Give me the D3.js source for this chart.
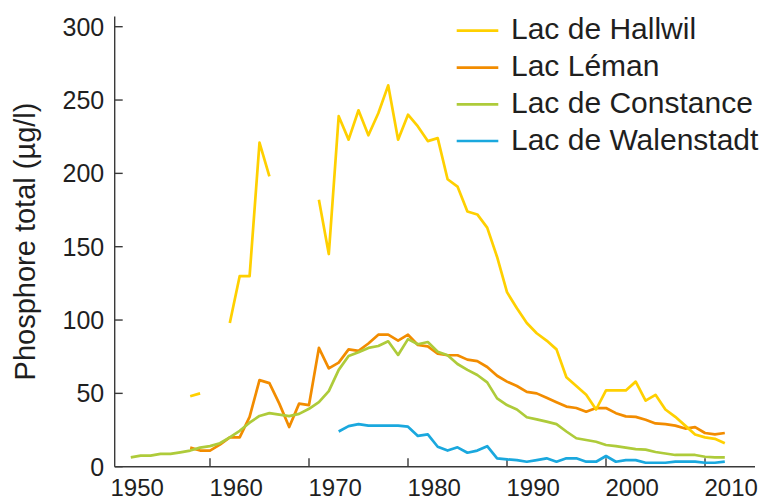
<!DOCTYPE html>
<html>
<head>
<meta charset="utf-8">
<script src="https://cdn.jsdelivr.net/npm/d3@7"></script>
<style>
  html, body { margin: 0; padding: 0; background: #fff; }
  svg { display: block; font-family: "Liberation Sans", Arial, Helvetica, sans-serif; }
</style>
</head>
<body>
<svg id="chart" width="764" height="501"></svg>
<script>
// ---- data ----
const years = d3.range(1952, 2013); // 1952 .. 2012

const hallwil = [
  null, null, null, null, null, null,          // 1952-1957
  48, 50, null, null,                          // 1958-1961
  98, 130, 130, 221, 198,                      // 1962-1966
  null, null, null, null,                      // 1967-1970
  182, 145, 239, 223, 243, 226, 241, 260, 223, // 1971-1979
  240, 232, 222, 224, 196, 191, 174, 172, 163, 143, // 1980-1989
  119, 108, 98, 91, 86, 80, 61, 55, 49, 39,    // 1990-1999
  52, 52, 52, 58, 45, 49, 39, 34, 28, 22,      // 2000-2009
  20, 19, 16                                   // 2010-2012
];

const leman = [
  null, null, null, null, null, null,          // 1952-1957
  13, 11,                                      // 1958-1959
  11, 15, 20, 20, 34, 59, 57, 43, 27, 43,      // 1960-1969
  42, 81, 67, 71, 80, 79, 84, 90, 90, 86,      // 1970-1979
  90, 83, 82, 77, 76, 76, 73, 72, 68, 62,      // 1980-1989
  58, 55, 51, 50, 47, 44, 41, 40, 37.5, 40,    // 1990-1999
  40, 36.5, 34.3, 34, 32, 29.5, 29, 28, 26, 27,// 2000-2009
  23, 22, 23                                   // 2010-2012
];

const constance = [
  6.4, 7.5, 7.5, 8.7, 8.7, 9.8, 11, 13,        // 1952-1959
  14, 16, 20, 24.5, 30, 34.6, 36.5, 35.5, 34.5, 36, // 1960-1969
  39.5, 44, 51.5, 66, 75.5, 78, 81, 82.3, 85.5, 76.2, // 1970-1979
  87, 83.5, 85, 78.4, 76, 70, 66, 62.5, 57.5, 46.6,   // 1980-1989
  42, 39, 33.7, 32.3, 30.7, 29, 24, 19.4, 18.2, 17,   // 1990-1999
  14.8, 14, 13, 12, 11.6, 10, 9, 8, 8, 8,             // 2000-2009
  6.8, 6.3, 6.3                                       // 2010-2012
];

const walenstadt = [
  null, null, null, null, null, null, null, null,     // 1952-1959
  null, null, null, null, null, null, null, null, null, null, // 1960-1969
  null, null, null, 24, 27.7, 29, 28, 28, 28, 28,     // 1970-1979
  27.3, 21, 22, 13.6, 11, 13.2, 9.5, 11, 14, 5.7,     // 1980-1989
  5, 4.5, 3.4, 4.5, 5.7, 3.4, 5.7, 5.7, 3.4, 3.4,     // 1990-1999
  7.3, 3.4, 4.5, 4.5, 2.7, 2.7, 2.7, 3.4, 3.4, 3.4,   // 2000-2009
  2.7, 2.7, 3.4                                       // 2010-2012
];

const seriesNames = ["Lac de Hallwil", "Lac Léman", "Lac de Constance", "Lac de Walenstadt"];
const seriesColors = ["#FFD000", "#F28C00", "#AECB3A", "#1AA8DE"];
const seriesValues = [hallwil, leman, constance, walenstadt];

const xTicks = [1950, 1960, 1970, 1980, 1990, 2000, 2010];
const yTicks = [0, 50, 100, 150, 200, 250, 300];
const yTitle = "Phosphore total (µg/l)";

// ---- layout ----
const svg = d3.select("#chart");
const x = d3.scaleLinear().domain([1950, 2010]).range([111, 705]);
const y = d3.scaleLinear().domain([0, 300]).range([466.7, 26.7]);
const axisX0 = 114.7, axisX1 = 755, axisYtop = 16.5;
const axisColor = "#3a3a3a";
const textColor = "#1f1f1f";

// y axis
const gy = svg.append("g").attr("transform", `translate(${axisX0},0)`);
gy.append("line").attr("x1", 0).attr("x2", 0).attr("y1", axisYtop).attr("y2", y(0))
  .attr("stroke", axisColor).attr("stroke-width", 1.4);
gy.selectAll("line.t").data(yTicks).join("line").attr("class", "t")
  .attr("x1", 0).attr("x2", 8).attr("y1", d => y(d)).attr("y2", d => y(d))
  .attr("stroke", axisColor).attr("stroke-width", 1.4);
gy.selectAll("text").data(yTicks).join("text")
  .attr("x", -10.5).attr("y", d => y(d) + 8.9)
  .attr("text-anchor", "end").attr("font-size", 25).attr("fill", textColor)
  .text(d => d);

// x axis
const gx = svg.append("g");
gx.append("line").attr("x1", axisX0).attr("x2", axisX1).attr("y1", y(0)).attr("y2", y(0))
  .attr("stroke", axisColor).attr("stroke-width", 1.4);
gx.selectAll("line.t").data(xTicks.filter(d => x(d) > axisX0 + 1)).join("line").attr("class", "t")
  .attr("x1", d => x(d)).attr("x2", d => x(d)).attr("y1", y(0)).attr("y2", y(0) - 8.5)
  .attr("stroke", axisColor).attr("stroke-width", 1.4);
gx.selectAll("text").data(xTicks).join("text")
  .attr("x", d => x(d) - 0.5).attr("y", 495.5)
  .attr("text-anchor", "start").attr("font-size", 24).attr("fill", textColor)
  .text(d => d);

// y title
svg.append("text")
  .attr("transform", "translate(35,241.5) rotate(-90)")
  .attr("text-anchor", "middle").attr("font-size", 29).attr("fill", textColor)
  .text(yTitle);

// lines
const line = d3.line()
  .defined(d => d[1] !== null)
  .x(d => x(d[0]))
  .y(d => y(d[1]));

const drawOrder = [1, 2, 3, 0];
drawOrder.forEach(i => {
  const pts = years.map((yr, k) => [yr, seriesValues[i][k]]);
  svg.append("path")
    .attr("d", line(pts))
    .attr("fill", "none")
    .attr("stroke", seriesColors[i])
    .attr("stroke-width", 2.7)
    .attr("stroke-linejoin", "round")
    .attr("stroke-linecap", "butt");
});

// legend
const legY = [30.7, 67.7, 104.3, 141];
const lg = svg.append("g");
seriesNames.forEach((name, i) => {
  lg.append("line")
    .attr("x1", 456.7).attr("x2", 498.3).attr("y1", legY[i]).attr("y2", legY[i])
    .attr("stroke", seriesColors[i]).attr("stroke-width", 2.7);
  lg.append("text")
    .attr("x", 511).attr("y", legY[i] + 8.5)
    .attr("font-size", 30).attr("fill", textColor)
    .text(name);
});
</script>
</body>
</html>
